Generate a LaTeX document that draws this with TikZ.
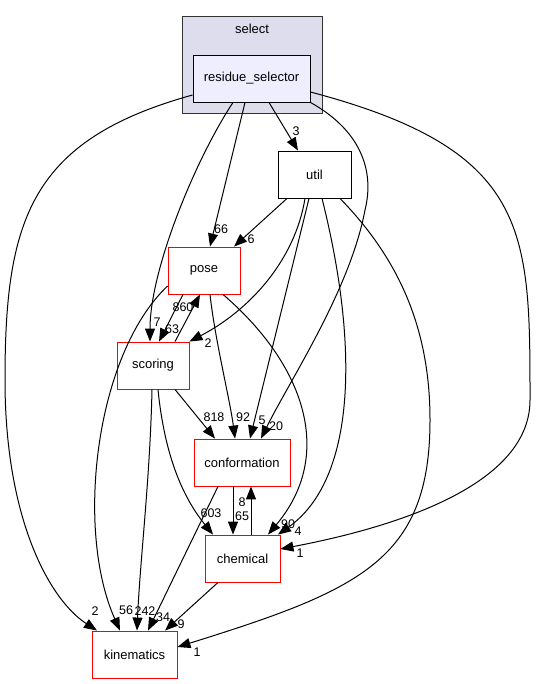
\documentclass[tikz,border=0pt]{standalone}
\usepackage{fontspec}
\setmainfont{Liberation Sans}
\usetikzlibrary{arrows.meta}
\definecolor{clusterfill}{HTML}{DDDDEE}
\definecolor{selfill}{HTML}{EEEEFF}
\begin{document}
\begin{tikzpicture}[x=1pt, y=-1pt,
  dirbox/.style={rectangle, minimum height=47pt, inner sep=0pt, text centered, draw=red, line width=0.9pt, fill=white, font=\fontsize{13}{15}\selectfont},
  plainbox/.style={dirbox, draw=black},
  edgelabel/.style={inner sep=0pt, font=\fontsize{12.5}{14}\selectfont},
  dep/.style={line width=1pt, -{Triangle[length=13pt,width=10pt]}}]
\useasboundingbox (0,0) rectangle (536,684);

% Nodes
\node (select) [rectangle, minimum width=140pt, minimum height=97pt, draw=black!80, line width=0.9pt, fill=clusterfill] at (252,64.5) {};
\node (selecttitle) [edgelabel, font=\fontsize{13}{15}\selectfont] at (252,29) {select};
\node (rs) [plainbox, minimum width=117pt, fill=selfill] at (251.5,78.5) {residue\_selector};
\node (util) [plainbox, minimum width=73pt] at (314.5,174.5) {util};
\node (pose) [dirbox, minimum width=72pt] at (204,270.5) {pose};
\node (scoring) [dirbox, minimum width=72pt] at (153,365.5) {scoring};
\node (conf) [dirbox, minimum width=96pt] at (242,462.5) {conformation};
\node (chem) [dirbox, minimum width=75pt] at (242.5,558.5) {chemical};
\node (kin) [dirbox, minimum width=85pt] at (134.5,654.5) {kinematics};

% Arrows
\draw [dep] ([yshift=-16.5pt]rs.west) .. controls (30,140) and (5,220) .. (5,380) .. controls (5,520) and (50,600) .. ([xshift=-37.5pt]kin.north);
\draw [dep] ([xshift=-18.5pt]rs.south) .. controls (195,160) and (150,270) .. ([xshift=-3pt]scoring.north);
\draw [dep] ([xshift=-6.5pt]rs.south) -- ([xshift=6pt]pose.north);
\draw [dep] ([xshift=17.5pt]rs.south) -- ([xshift=-16.5pt]util.north);
\draw [dep] (rs.south east) .. controls (360,130) and (375,170) .. (365,210) .. controls (350,290) and (290,380) .. ([xshift=19pt]conf.north);
\draw [dep] ([yshift=-13.5pt]rs.east) .. controls (530,150) and (530,230) .. (530,400) .. controls (530,490) and (380,530) .. ([yshift=9.5pt]chem.east);
\draw [dep] ([xshift=-27.5pt]util.south) -- ([xshift=30pt]pose.north);
\draw [dep] ([xshift=-9.5pt]util.south) .. controls (295,260) and (250,310) .. (scoring.north east);
\draw [dep] ([xshift=-5.5pt]util.south) -- ([xshift=8pt]conf.north);
\draw [dep] ([xshift=7.5pt]util.south) .. controls (360,350) and (355,480) .. ([xshift=35.5pt]chem.north);
\draw [dep] ([xshift=25.5pt]util.south) .. controls (400,260) and (430,330) .. (430,420) .. controls (430,560) and (360,590) .. ([yshift=7.5pt]kin.east);
\draw [dep] ([xshift=-21pt]pose.south) -- ([xshift=6pt]scoring.north);
\draw [dep] ([xshift=22pt]scoring.north) -- ([xshift=-4pt]pose.south);
\draw [dep] ([xshift=6pt]pose.south) .. controls (215,340) and (230,400) .. ([xshift=-7pt]conf.north);
\draw [dep] ([xshift=19pt]pose.south) .. controls (305,365) and (335,455) .. ([xshift=25.5pt]chem.north);
\draw [dep] ([yshift=-15.5pt]pose.west) .. controls (95,355) and (75,530) .. ([xshift=-14.5pt]kin.north);
\draw [dep] ([xshift=-1pt]scoring.south) .. controls (150,480) and (140,560) .. ([xshift=2.5pt]kin.north);
\draw [dep] ([xshift=22pt]scoring.south) -- ([xshift=-27pt]conf.north);
\draw [dep] ([xshift=5pt]scoring.south) .. controls (165,460) and (185,500) .. ([xshift=-29.5pt]chem.north);
\draw [dep] ([xshift=-9pt]conf.south) -- ([xshift=-9.5pt]chem.north);
\draw [dep] ([xshift=8.5pt]chem.north) -- ([xshift=9pt]conf.south);
\draw [dep] ([xshift=-24pt]conf.south) -- ([xshift=13.5pt]kin.north);
\draw [dep] ([xshift=-24.5pt]chem.south) -- ([xshift=30.5pt]kin.north);

% Labels
\node (lrskin) [edgelabel] at (95,611) {2};
\node (lrsscoring) [edgelabel] at (157,322) {7};
\node (lrspose) [edgelabel] at (221,229) {66};
\node (lrsutil) [edgelabel] at (296,131) {3};
\node (lrsconf) [edgelabel] at (276,426) {20};
\node (lrschem) [edgelabel] at (300,553) {1};
\node (lutilpose) [edgelabel] at (251,239) {6};
\node (lutilscoring) [edgelabel] at (208,343) {2};
\node (lutilconf) [edgelabel] at (262,420) {5};
\node (lutilchem) [edgelabel] at (298,531) {4};
\node (lutilkin) [edgelabel] at (197,652) {1};
\node (lposescoring) [edgelabel] at (172,329) {63};
\node (lscoringpose) [edgelabel] at (183,307) {860};
\node (lposeconf) [edgelabel] at (243,417) {92};
\node (lposechem) [edgelabel] at (288,524) {90};
\node (lposekin) [edgelabel] at (126,610) {56};
\node (lscoringkin) [edgelabel] at (145,611) {242};
\node (lscoringconf) [edgelabel] at (214,417) {818};
\node (lscoringchem) [edgelabel] at (211,513) {603};
\node (lconfchem) [edgelabel] at (242,516) {65};
\node (lchemconf) [edgelabel] at (242,502) {8};
\node (lconfkin) [edgelabel] at (163,617) {34};
\node (lchemkin) [edgelabel] at (181,624) {9};

\end{tikzpicture}
\end{document}
